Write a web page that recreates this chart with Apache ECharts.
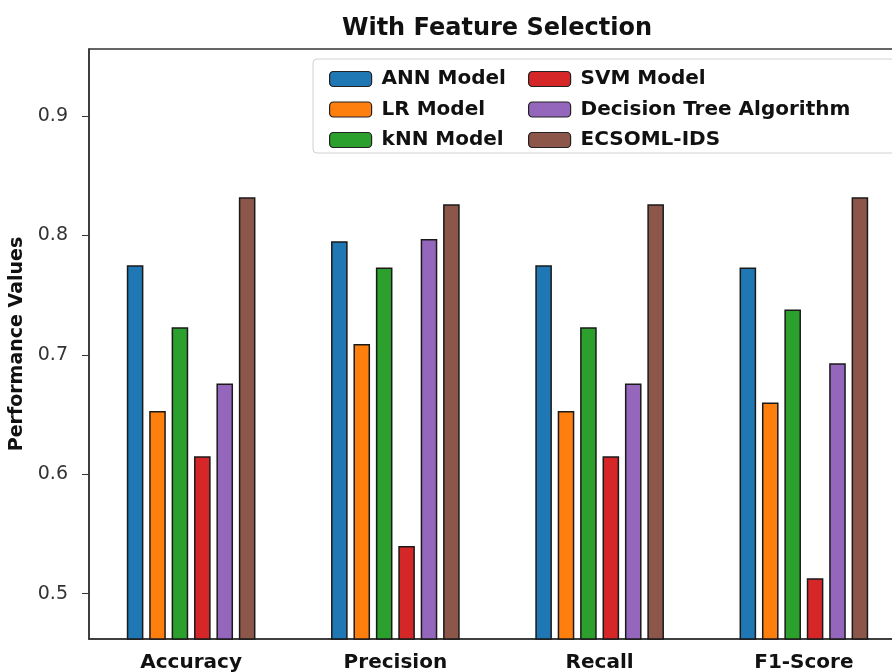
<!DOCTYPE html>
<html>
<head>
<meta charset="utf-8">
<script src="https://cdn.jsdelivr.net/npm/echarts@6/dist/echarts.min.js"></script>
<style>
  html, body { margin: 0; padding: 0; background: #fff; }
  #chart { width: 892px; height: 672px; }
</style>
</head>
<body>
<div id="chart"></div>
<script>
// metric groups along the x axis
const categories = ['Accuracy', 'Precision', 'Recall', 'F1-Score']
const yTicks = [0.5, 0.6, 0.7, 0.8, 0.9]

// values
const annModel = [0.775, 0.795, 0.775, 0.773]
const lrModel = [0.653, 0.709, 0.653, 0.660]
const knnModel = [0.723, 0.773, 0.723, 0.738]
const svmModel = [0.615, 0.540, 0.615, 0.513]
const dtModel = [0.676, 0.797, 0.676, 0.693]
const ecsomlIds = [0.832, 0.826, 0.826, 0.832]

const seriesDefs = [
  {name: 'ANN Model', data: annModel, color: '#1f77b4'},
  {name: 'LR Model', data: lrModel, color: '#ff7f0e'},
  {name: 'kNN Model', data: knnModel, color: '#2ca02c'},
  {name: 'SVM Model', data: svmModel, color: '#d62728'},
  {name: 'Decision Tree Algorithm', data: dtModel, color: '#9467bd'},
  {name: 'ECSOML-IDS', data: ecsomlIds, color: '#8c564b'},
]

const font = 'DejaVu Sans'
const legendText = {fontFamily: font, fontWeight: 'bold', fontSize: 20, color: '#111', padding: [0, 0, 0, 5]}

const legendBase = {
  orient: 'vertical',
  top: 64,
  itemWidth: 42,
  itemHeight: 15,
  itemGap: 10.5,
  textStyle: legendText,
  itemStyle: {borderColor: '#222', borderWidth: 1.2},
}

const chart = echarts.init(document.getElementById('chart'))
chart.setOption({
  animation: false,
  backgroundColor: '#fff',
  title: {
    text: 'With Feature Selection',
    left: 492,
    textAlign: 'center',
    top: 12,
    textStyle: {fontFamily: font, fontWeight: 'bold', fontSize: 24, color: '#111'},
  },
  grid: {
    left: 89,
    right: -14,
    top: 49,
    bottom: 33,
    show: true,
    borderColor: '#333',
    borderWidth: 1.5,
    containLabel: false,
    outerBoundsMode: 'none',
  },
  graphic: [{
    type: 'rect',
    shape: {x: 313, y: 59, width: 600, height: 94, r: 4},
    style: {fill: 'rgba(255,255,255,0.85)', stroke: '#d0d0d0', lineWidth: 1},
    z: 3,
  }],
  legend: [
    Object.assign({}, legendBase, {left: 324, data: seriesDefs.slice(0, 3).map(s => s.name), z: 4}),
    Object.assign({}, legendBase, {left: 523, data: seriesDefs.slice(3).map(s => s.name), z: 4}),
  ],
  xAxis: {
    type: 'category',
    data: categories,
    axisLine: {lineStyle: {color: '#333', width: 1.5}},
    axisTick: {alignWithLabel: true, length: 7, lineStyle: {color: '#333'}},
    axisLabel: {fontFamily: font, fontWeight: 'bold', fontSize: 20, color: '#111', margin: 14},
  },
  yAxis: {
    type: 'value',
    min: 0.4621,
    max: 0.956,
    name: 'Performance Values',
    nameLocation: 'middle',
    nameGap: 54,
    nameTextStyle: {fontFamily: font, fontWeight: 'bold', fontSize: 19, color: '#111'},
    axisLine: {show: true, lineStyle: {color: '#333', width: 1.5}},
    axisTick: {show: true, length: 7, customValues: yTicks, lineStyle: {color: '#333'}},
    axisLabel: {
      customValues: yTicks,
      formatter: v => v.toFixed(1),
      fontFamily: font,
      fontSize: 19,
      color: '#333',
      margin: 21,
    },
    splitLine: {show: false},
  },
  series: seriesDefs.map(s => ({
    type: 'bar',
    name: s.name,
    data: s.data,
    barWidth: 16.6,
    barGap: '35%',
    itemStyle: {color: s.color, borderColor: '#1a1a1a', borderWidth: 1.5},
  })),
})
</script>
</body>
</html>
